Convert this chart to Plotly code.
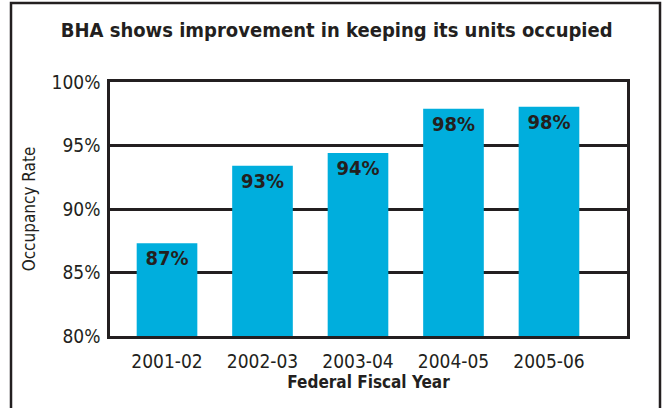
import plotly.graph_objects as go

years = ["2001-02", "2002-03", "2003-04", "2004-05", "2005-06"]
occupancy = [87.3, 93.4, 94.4, 97.9, 98.05]
y_ticks = [80, 85, 90, 95, 100]
y_tick_labels = ["80%", "85%", "90%", "95%", "100%"]

FONT = "DejaVu Sans Condensed, DejaVu Sans, sans-serif"
INK = "#231f20"
BAR = "#00aedd"

W, H = 666, 408
L, R, T, B = 110, 39, 82, 72
pw, ph = W - L - R, H - T - B

def f(size, bold=False):
    return dict(family=FONT, size=size, color=INK,
                weight="bold" if bold else "normal")

fig = go.Figure()
fig.add_trace(go.Bar(
    x=years, y=occupancy, width=0.635,
    marker=dict(color=BAR, line=dict(width=0)),
    texttemplate="%{y:.0f}%", textposition="inside", insidetextanchor="end",
    textangle=0, constraintext="none",
    textfont=f(20, True),
    hoverinfo="skip",
))

fig.update_layout(
    width=W, height=H,
    margin=dict(l=L, r=R, t=T, b=B, autoexpand=False),
    paper_bgcolor="white", plot_bgcolor="white",
    showlegend=False,
    title=dict(text="BHA shows improvement in keeping its units occupied",
               x=336.7 / W, xanchor="center", y=1 - 30 / H, yanchor="middle",
               font=f(20, True)),
    xaxis=dict(
        type="category", range=[-0.597, 4.817],
        showline=True, mirror=True, linecolor=INK, linewidth=2.5,
        showgrid=False, ticks="", ticklabelstandoff=6,
        tickfont=f(19),
        title=dict(text="Federal Fiscal Year", standoff=6, font=f(17, True)),
    ),
    yaxis=dict(
        range=[80, 100], tickvals=y_ticks, ticktext=y_tick_labels,
        showline=True, mirror=True, linecolor=INK, linewidth=2.5,
        showgrid=True, gridcolor=INK, gridwidth=2.5, zeroline=False,
        ticks="", ticklabelstandoff=3,
        tickfont=f(19),
        title=dict(text="Occupancy Rate", standoff=12, font=f(17)),
    ),
    shapes=[dict(type="rect", xref="paper", yref="paper", layer="above",
                 x0=(11 - L) / pw, x1=(660 - L) / pw,
                 y0=(H - B - 420) / ph, y1=(H - B - 3) / ph,
                 line=dict(color=INK, width=2.5), fillcolor="rgba(0,0,0,0)")],
)

fig.write_html("out.html")
